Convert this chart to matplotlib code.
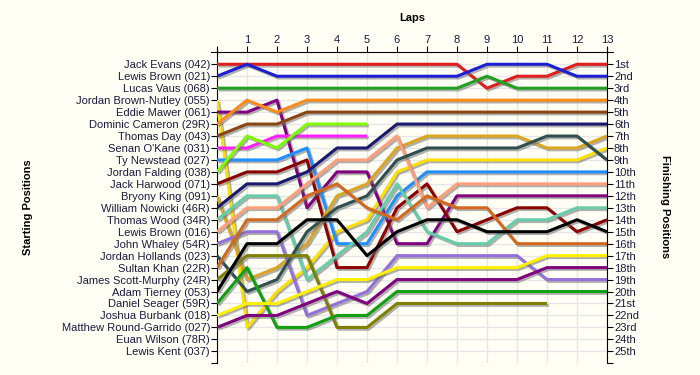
import matplotlib
matplotlib.use('Agg')
import matplotlib.pyplot as plt
import matplotlib.patheffects as pe

plt.rcParams['font.family'] = ['Liberation Sans', 'DejaVu Sans']
plt.rcParams['font.size'] = 8

# Data
laps = list(range(14))

drivers = ['Jack Evans (042)', 'Lewis Brown (021)', 'Lucas Vaus (068)',
           'Jordan Brown-Nutley (055)', 'Eddie Mawer (061)', 'Dominic Cameron (29R)',
           'Thomas Day (043)', "Senan O'Kane (031)", 'Ty Newstead (027)',
           'Jordan Falding (038)', 'Jack Harwood (071)', 'Bryony King (091)',
           'William Nowicki (46R)', 'Thomas Wood (34R)', 'Lewis Brown (016)',
           'John Whaley (54R)', 'Jordan Hollands (023)', 'Sultan Khan (22R)',
           'James Scott-Murphy (24R)', 'Adam Tierney (053)', 'Daniel Seager (59R)',
           'Joshua Burbank (018)', 'Matthew Round-Garrido (027)', 'Euan Wilson (78R)',
           'Lewis Kent (037)']

colors = ['#E01E1E', '#1E1ED2', '#22A022', '#FFE000', '#800080', '#FF8C1A',
          '#8B4513', '#FF1EFF', '#1E90FF', '#7CFC00', '#8B0000', '#DAA520',
          '#191970', '#66CDAA', '#FFA07A', '#9370DB', '#2F4F4F', '#D2691E',
          '#808000', '#000000', '#10A010', '#FFF000', '#800080', None, None]

# position of each driver at the end of each lap (lap 0 = grid)
positions = [
    [1, 1, 1, 1, 1, 1, 1, 1, 1, 3, 2, 2, 1, 1],
    [2, 1, 2, 2, 2, 2, 2, 2, 2, 1, 1, 1, 2, 2],
    [3, 3, 3, 3, 3, 3, 3, 3, 3, 2, 3, 3, 3, 3],
    [4, 23, 20, 18, 15, 14, 10, 9, 9, 9, 9, 9, 9, 8],
    [5, 5, 4, 13, 10, 10, 16, 16, 12, 12, 12, 12, 12, 12],
    [6, 4, 5, 4, 4, 4, 4, 4, 4, 4, 4, 4, 4, 4],
    [7, 6, 6, 5, 5, 5, 5, 5, 5, 5, 5, 5, 5, 5],
    [8, 8, 7, 7, 7, 7],
    [9, 9, 9, 8, 16, 16, 12, 10, 10, 10, 10, 10, 10, 10],
    [10, 7, 8, 6, 6, 6],
    [11, 10, 10, 9, 18, 18, 13, 11, 15, 14, 13, 13, 15, 14],
    [12, 19, 18, 16, 12, 11, 8, 7, 7, 7, 7, 8, 8, 7],
    [13, 11, 11, 10, 8, 8, 6, 6, 6, 6, 6, 6, 6, 6],
    [14, 12, 12, 19, 17, 15, 11, 15, 16, 16, 14, 14, 13, 13],
    [15, 13, 13, 11, 9, 9, 7, 13, 11, 11, 11, 11, 11, 11],
    [16, 15, 15, 22, 21, 20, 17, 17, 17, 17, 17, 19, 19, 19],
    [17, 20, 19, 15, 13, 12, 9, 8, 8, 8, 8, 7, 7, 9],
    [18, 14, 14, 12, 11, 13, 14, 12, 13, 13, 16, 16, 16, 16],
    [19, 17, 17, 17, 23, 23, 21, 21, 21, 21, 21, 21],
    [20, 16, 16, 14, 14, 17, 15, 14, 14, 15, 15, 15, 14, 15],
    [21, 18, 23, 23, 22, 22, 20, 20, 20, 20, 20, 20, 20, 20],
    [22, 21, 21, 20, 19, 19, 18, 18, 18, 18, 18, 17, 17, 17],
    [23, 22, 22, 21, 20, 21, 19, 19, 19, 19, 19, 18, 18, 18],
    [],
    [],
]

finish_labels = ['1st', '2nd', '3rd'] + [f'{i}th' for i in range(4, 21)] + \
                ['21st', '22nd', '23rd', '24th', '25th']

bg = '#FFFFF5'
txt = '#1A1A40'

fig = plt.figure(figsize=(7, 3.75), dpi=100, facecolor=bg)
ax = fig.add_axes([217 / 700, 1 - 363.3 / 375, 390 / 700, 311 / 375])
ax.set_facecolor(bg)

shadow = [pe.SimpleLineShadow(offset=(1.3, -1.3), shadow_color='#707070', alpha=0.55),
          pe.Normal()]
for name, col, pos in zip(drivers, colors, positions):
    if not pos:
        continue
    ax.plot(laps[:len(pos)], pos, color=col, lw=2.2, solid_joinstyle='round',
            solid_capstyle='butt', path_effects=shadow, zorder=3)

ax.set_xlim(0, 13)
ax.set_ylim(26, 0)

# top lap axis
ax.xaxis.tick_top()
ax.set_xticks(laps)
ax.set_xticklabels([''] + [str(i) for i in laps[1:]])
ax.tick_params(axis='x', length=4, pad=1, labelsize=8, labelcolor=txt)

# left: starting grid
ax.set_yticks(range(1, 27))
ax.set_yticklabels(drivers + [''])
ax.tick_params(axis='y', length=4, pad=1, labelsize=8, labelcolor=txt)

ax.grid(color='#E6E6E6', lw=1)
ax.set_axisbelow(True)

ax.spines['bottom'].set_visible(False)
ax.spines['right'].set_visible(False)
ax.spines['top'].set_bounds(-0.2, 13.2)
ax.spines['left'].set_bounds(-0.4, 26)

# right: finishing positions
ax2 = ax.twinx()
ax2.set_ylim(26, 0)
ax2.set_yticks(range(1, 27))
ax2.set_yticklabels(finish_labels + [''])
ax2.tick_params(axis='y', length=4, pad=1, labelsize=8, labelcolor=txt)
for s in ['top', 'bottom', 'left']:
    ax2.spines[s].set_visible(False)
ax2.spines['right'].set_bounds(-0.4, 26)

fig.text(412 / 700, 1 - 18 / 375, 'Laps', ha='center', va='center',
         fontweight='bold', fontsize=8)
fig.text(28 / 700, 1 - 207 / 375, 'Starting Positions', ha='center', va='center',
         rotation=90, fontweight='bold', fontsize=8)
fig.text(665 / 700, 1 - 207 / 375, 'Finishing Positions', ha='center', va='center',
         rotation=270, fontweight='bold', fontsize=8)

fig.savefig('out.png', dpi=100, facecolor=bg)
